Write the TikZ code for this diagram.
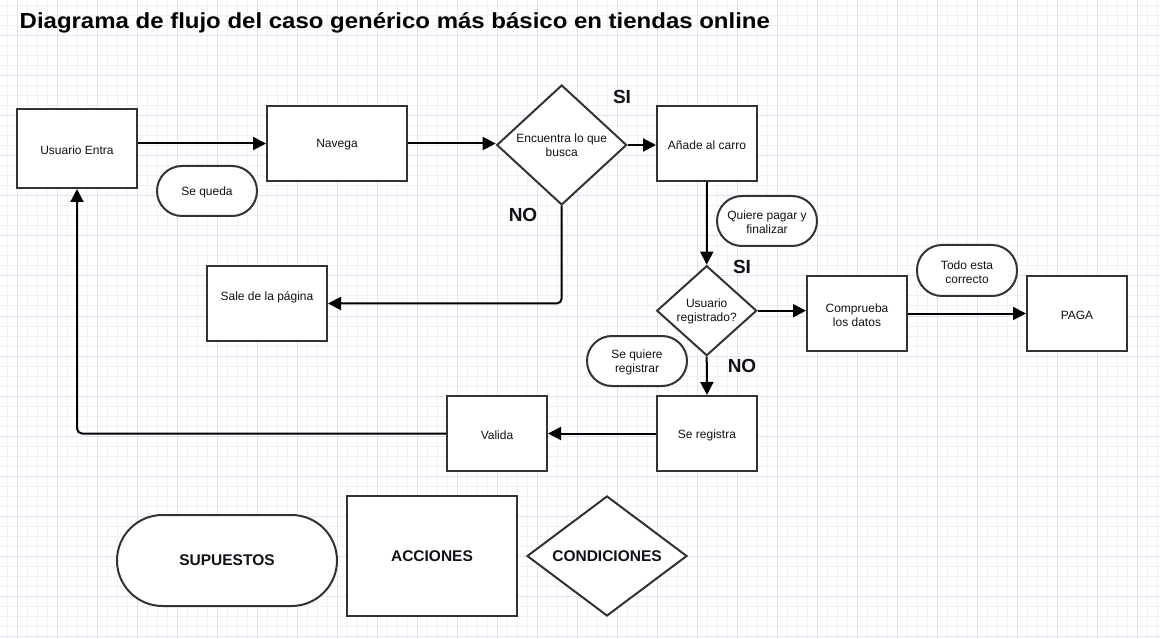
\documentclass[tikz,border=0pt]{standalone}
\usepackage{fontspec}
\setmainfont{Liberation Sans}
\newfontfamily\titlefont[FakeStretch=1.1]{Liberation Sans}
\usetikzlibrary{shapes.geometric,arrows.meta}
\definecolor{gridminor}{RGB}{240,240,251}
\definecolor{gridmajor}{RGB}{226,226,246}
\definecolor{boxc}{RGB}{51,51,51}
\definecolor{textc}{RGB}{17,17,24}
\newcommand\myfs[2]{\fontsize{#1}{#2}\selectfont}
\tikzset{
  gminor/.style={draw=gridminor,line width=1pt},
  gmajor/.style={draw=gridmajor,line width=1pt},
  txt/.style={font=\myfs{12}{14}, text=textc, align=center},
  stepbox/.style={rectangle, draw=boxc, line width=2pt, fill=white, inner sep=0pt, txt},
  pill/.style={stepbox, rounded corners=#1},
  boxtext/.style={label={[txt,yshift=-1.5pt]center:{#1}}},
  diam/.style={diamond, draw=boxc, line width=2pt, fill=white, inner sep=0pt},
  conn/.style={line width=2pt, black, -{Triangle[length=13pt,width=13pt]}, rounded corners=5pt},
  lbl/.style={font=\bfseries\myfs{19}{22}, text=textc},
  leg/.style={font=\bfseries\myfs{15.5}{18}, text=textc}
}
\begin{document}
\begin{tikzpicture}[x=1pt,y=-1pt]
\useasboundingbox (0,0) rectangle (1160,639);
\fill[white] (0,0) rectangle (1160,639);
% grid
\foreach \x in {7,17,...,1157} \draw[gminor] (\x,0) -- (\x,639);
\foreach \y in {6,16,...,636} \draw[gminor] (0,\y) -- (1160,\y);
\foreach \x in {17,57,...,1157} \draw[gmajor] (\x,0) -- (\x,639);
\foreach \y in {36,76,...,636} \draw[gmajor] (0,\y) -- (1160,\y);

% title
\node[anchor=base west, font=\titlefont\bfseries\myfs{21.8}{24}, text=black, inner sep=0pt] (title) at (19.5,28.5) {Diagrama de flujo del caso genérico más básico en tiendas online};

% nodes
\node[stepbox, minimum width=120pt, minimum height=79pt, boxtext={Usuario Entra}] (UE) at (77,148.5) {};
\node[stepbox, minimum width=140pt, minimum height=75pt, boxtext={Navega}] (Nav) at (337,143.5) {};
\node[diam, minimum width=130pt, minimum height=120pt, label={[txt,yshift=-0.5pt]center:{Encuentra lo que\\busca}}] (D1) at (561.7,145) {};
\node[stepbox, minimum width=100pt, minimum height=75pt, boxtext={Añade al carro}] (Add) at (707,143.5) {};
\node[pill=25pt, minimum width=100pt, minimum height=50pt, boxtext={Se queda}] (SeQ) at (207,191) {};
\node[pill=25pt, minimum width=100pt, minimum height=50pt, boxtext={Quiere pagar y\\finalizar}] (Quiere) at (767,221) {};
\node[diam, minimum width=100pt, minimum height=90pt, label={[txt,yshift=-1pt]center:{Usuario\\registrado?}}] (D2) at (706.7,310.7) {};
\node[stepbox, minimum width=100pt, minimum height=75pt, boxtext={Comprueba\\los datos}] (Comp) at (857,313.5) {};
\node[pill=25pt, minimum width=100pt, minimum height=51pt, boxtext={Todo esta\\correcto}] (Todo) at (967,270.5) {};
\node[stepbox, minimum width=100pt, minimum height=75pt, boxtext={PAGA}] (PAGA) at (1077,313.5) {};
\node[pill=25pt, minimum width=100pt, minimum height=50pt, boxtext={Se quiere\\registrar}] (SeQR) at (637,361) {};
\node[stepbox, minimum width=100pt, minimum height=75pt, boxtext={Se registra}] (SeReg) at (707,433.5) {};
\node[stepbox, minimum width=100pt, minimum height=75pt, boxtext={Valida}] (Valida) at (497,433.5) {};
\node[stepbox, minimum width=120pt, minimum height=75pt, label={[txt,yshift=6pt]center:{Sale de la página}}] (Sale) at (267,303.5) {};

% labels
\node[lbl] (SI1) at (622,97) {SI};
\node[lbl] (NO1) at (523,215) {NO};
\node[lbl] (SI2) at (742,267) {SI};
\node[lbl] (NO2) at (742,366) {NO};

% legend
\node[pill=45.5pt, minimum width=220pt, minimum height=91pt, leg] (Sup) at (227,560.5) {SUPUESTOS};
\node[stepbox, minimum width=170pt, minimum height=120pt, leg] (Acc) at (432,556) {ACCIONES};
\node[diam, minimum width=160pt, minimum height=120pt, label={[leg]center:CONDICIONES}] (Cond) at (607,556) {};

% connectors
\draw[conn] (UE.east |- Nav.west) -- (Nav.west);
\draw[conn] (Nav.east) -- (Nav.east -| D1.west);
\draw[conn] (D1.east) -- (D1.east -| Add.west);
\draw[conn] (D1.south) |- (Sale.east);
\draw[conn] (Add.south) -- (D2.north);
\draw[conn] (D2.east) -- (D2.east -| Comp.west);
\draw[conn] (Comp.east) -- (PAGA.west);
\draw[conn] (D2.south) -- (SeReg.north);
\draw[conn] (SeReg.west) -- (Valida.east);
\draw[conn] (Valida.west) -| (UE.south);
\end{tikzpicture}
\end{document}
